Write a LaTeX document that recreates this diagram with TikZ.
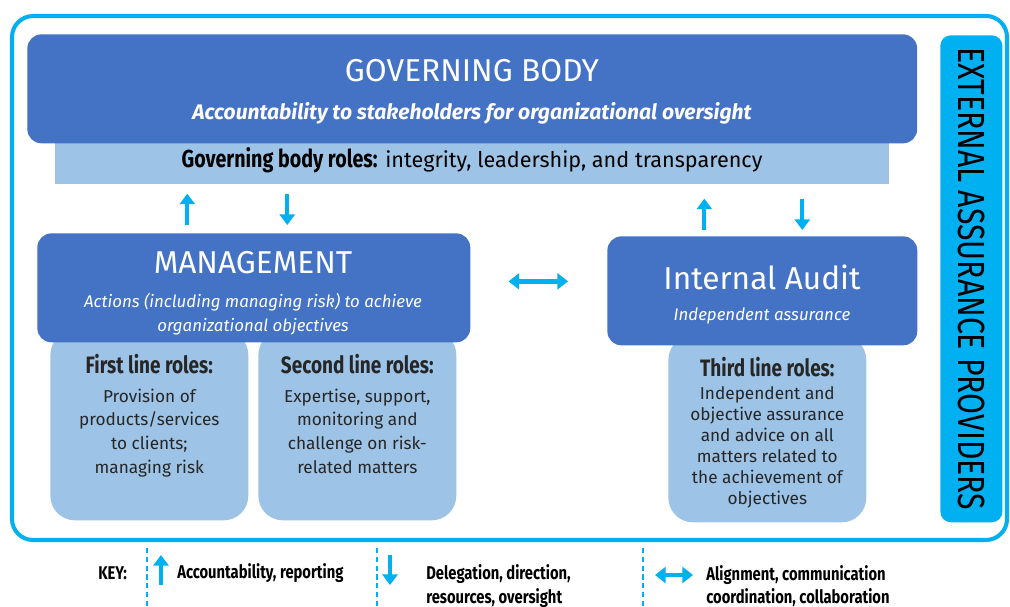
\documentclass[tikz,border=0pt]{standalone}
\usepackage{fontspec}
\setmainfont{Fira Sans}
\newfontfamily\narrowfont[FakeStretch=0.8]{Fira Sans}
\usetikzlibrary{calc}
\usetikzlibrary{positioning}
\usetikzlibrary{arrows.meta}
\definecolor{govblue}{HTML}{4472C4}
\definecolor{roleblue}{HTML}{9DC3E6}
\definecolor{keycyan}{HTML}{00B0F0}
\tikzstyle{bigbox}=[%
  fill=govblue,
  rounded corners=8pt,
  anchor=north west,
  inner sep=0pt
]
\tikzstyle{rolebox}=[%
  fill=roleblue,
  rounded corners=14pt,
  anchor=north west,
  inner sep=0pt,
  minimum width=3.96cm,
  minimum height=3.8cm
]
\tikzstyle{roletext}=[%
  text=black!85,
  align=center,
  inner sep=0pt,
  font=\fontsize{9.8}{13.4}\selectfont
]
\tikzstyle{whitetext}=[%
  text=white,
  align=center,
  inner sep=0pt
]
\tikzstyle{flow}=[%
  draw=keycyan,
  line width=2.3pt,
  -{Triangle[width=8.5pt,length=6pt]}
]
\tikzstyle{twoway}=[%
  draw=keycyan,
  line width=3pt,
  {Triangle[width=9pt,length=6pt]}-{Triangle[width=9pt,length=6pt]}
]
\tikzstyle{keytext}=[%
  anchor=west,
  align=left,
  inner sep=0pt,
  font=\narrowfont\bfseries\fontsize{10.5}{13.5}\selectfont
]
\newcommand\roletitle[1]{{\narrowfont\bfseries\fontsize{13.5}{14}\selectfont #1}}

\begin{document}
\begin{tikzpicture}[x=0.02cm, y=-0.02cm]
      \useasboundingbox (0,0) rectangle (1010,606);
      % outer frame
      \draw[keycyan, line width=2.3pt, rounded corners=12pt] (12,16) rectangle (1007,540);
      % governing body
      \node[anchor=north west, fill=roleblue, inner sep=0pt,
        minimum width=16.68cm, minimum height=1.02cm] (strip) at (55,133) {};
      \node[bigbox, minimum width=17.8cm, minimum height=2.18cm] (gov) at (27,34) {};
      \node[whitetext, font=\fontsize{18}{22}\selectfont] (govtitle) at (472,71) {GOVERNING BODY};
      \node[whitetext, font=\bfseries\itshape\fontsize{12}{14}\selectfont] (govsub) at (472,113)
        {Accountability to stakeholders for organizational oversight};
      \node[inner sep=0pt, font=\fontsize{12.3}{14}\selectfont] (govroles) at (472,160)
        {{\narrowfont\bfseries\fontsize{14}{14}\selectfont Governing body roles:} integrity, leadership, and transparency};
      % role boxes
      \node[rolebox] (first) at (50,330) {};
      \node[rolebox] (second) at (258,330) {};
      \node[rolebox, minimum height=3.74cm] (third) at (668,335) {};
      \node[roletext, below=0.48cm of first.north] {%
        \roletitle{First line roles:}\\[3pt]
        Provision of\\products/services\\to clients;\\managing risk};
      \node[roletext, below=0.48cm of second.north] {%
        \roletitle{Second line roles:}\\[3pt]
        Expertise, support,\\monitoring and\\challenge on risk-\\related matters};
      \node[roletext, below=0.44cm of third.north, font=\fontsize{9.8}{12}\selectfont] {%
        \roletitle{Third line roles:}\\[1pt]
        Independent and\\objective assurance\\and advice on all\\matters related to\\the achievement of\\objectives};
      % management and internal audit
      \node[bigbox, minimum width=8.66cm, minimum height=2.18cm] (mgmt) at (37,233) {};
      \node[bigbox, minimum width=6.2cm, minimum height=2.18cm] (audit) at (607,236) {};
      \node[whitetext, font=\fontsize{18}{22}\selectfont] (mgmttitle) at (253,263) {MANAGEMENT};
      \node[whitetext, font=\itshape\fontsize{9.6}{14}\selectfont] (mgmtsub) at (253,314)
        {Actions (including managing risk) to achieve\\organizational objectives};
      \node[whitetext, font=\fontsize{18}{22}\selectfont] (audittitle) at (762,277) {Internal Audit};
      \node[whitetext, font=\itshape\fontsize{9.6}{12}\selectfont] (auditsub) at (762,316) {Independent assurance};
      % external assurance
      \node[anchor=north west, fill=keycyan, rounded corners=6pt, inner sep=0pt,
        minimum width=1.24cm, minimum height=9.74cm] (ext) at (940,35) {};
      \node[rotate=-90, inner sep=0pt, font=\narrowfont\fontsize{21.5}{22}\selectfont] at (ext.center)
        {EXTERNAL ASSURANCE PROVIDERS};
      % arrows
      \draw[flow, shorten <=0.16cm, shorten >=0.18cm] ([xshift=-1.33cm]mgmt.north) -- ([xshift=-1.33cm]mgmt.north |- strip.south);
      \draw[flow, shorten <=0.18cm, shorten >=0.16cm] ([xshift=0.67cm]mgmt.north |- strip.south) -- ([xshift=0.67cm]mgmt.north);
      \draw[flow, shorten <=0.12cm, shorten >=0.28cm] ([xshift=-1.16cm]audit.north) -- ([xshift=-1.16cm]audit.north |- strip.south);
      \draw[flow, shorten <=0.28cm, shorten >=0.12cm] ([xshift=0.8cm]audit.north |- strip.south) -- ([xshift=0.8cm]audit.north);
      \draw[twoway, shorten <=0.76cm, shorten >=0.78cm] ([yshift=0.13cm]mgmt.east) -- ([yshift=0.13cm]mgmt.east -| audit.west);
      % key
      \node[keytext] (key) at (98,573) {KEY:};
      \foreach \x in {147, 377, 643} {%
        \draw[keycyan, line width=0.6pt, dash pattern=on 3pt off 2pt] (\x,548) -- (\x,606);
      }
      \coordinate (upa) at (161,585);
      \coordinate (upb) at (161,555);
      \coordinate (downa) at (390,555);
      \coordinate (downb) at (390,585);
      \coordinate (alla) at (655,575);
      \coordinate (allb) at (693,575);
      \draw[flow] (upa) -- (upb);
      \draw[flow] (downa) -- (downb);
      \draw[twoway, line width=2.5pt] (alla) -- (allb);
      \node[keytext] (keyacc) at (177,573) {Accountability, reporting};
      \node[keytext] (keydel) at (426,586) {Delegation, direction,\\resources, oversight};
      \node[keytext] (keyali) at (706,586) {Alignment, communication\\coordination, collaboration};
    \end{tikzpicture}
\end{document}
